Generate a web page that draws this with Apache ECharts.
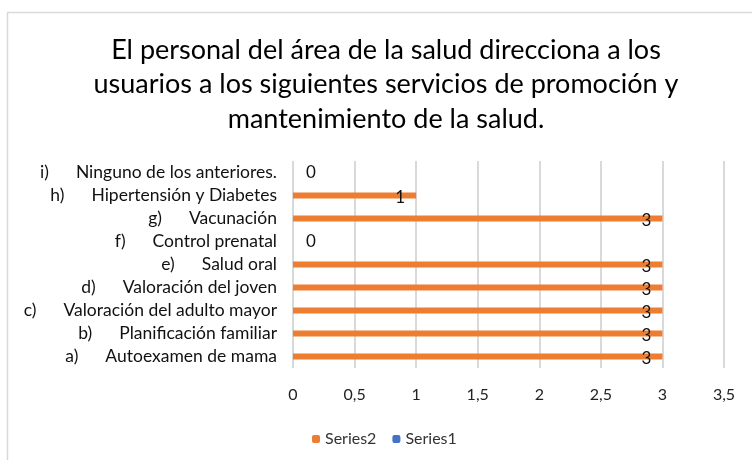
<!DOCTYPE html>
<html>
<head>
<meta charset="utf-8">
<script src="https://cdn.jsdelivr.net/npm/echarts@6/dist/echarts.min.js"></script>
<style>
  html, body { margin: 0; padding: 0; background: #fff; }
  #chart { width: 752px; height: 460px; }
</style>
</head>
<body>
<div id="chart"></div>
<script>
// categories, bottom to top like the reference
var prefixes = ["a)", "b)", "c)", "d)", "e)", "f)", "g)", "h)", "i)"];
var names = [
  "Autoexamen de mama",
  "Planificación familiar",
  "Valoración del adulto mayor",
  "Valoración del joven",
  "Salud oral",
  "Control prenatal",
  "Vacunación",
  "Hipertensión y Diabetes",
  "Ninguno de los anteriores."
];
var series2 = [3, 3, 3, 3, 3, 0, 3, 1, 0];
var series1 = [0, 0, 0, 0, 0, 0, 0, 0, 0];
var titleText = "El personal del área de la salud direcciona a los\nusuarios a los siguientes servicios de promoción y\nmantenimiento de la salud.";

var categories = prefixes.map(function (p, i) {
  return p + "|" + names[i];
});

var font = "Lato, 'Open Sans', sans-serif";

var chart = echarts.init(document.getElementById("chart"));

var option = {
  backgroundColor: "#FFFFFF",
  animation: false,
  graphic: [
    {
      type: "rect",
      silent: true,
      shape: { x: 7.5, y: 12.5, width: 800, height: 500 },
      style: { fill: "none", stroke: "#d9d9d9", lineWidth: 1.5 }
    },
    {
      type: "text",
      silent: true,
      x: 386,
      y: 33,
      style: {
        text: titleText,
        textAlign: "center",
        fontFamily: font,
        fontSize: 27,
        lineHeight: 34.5,
        fill: "#000000"
      }
    }
  ],
  legend: {
    left: 307,
    top: 426,
    itemWidth: 8,
    itemHeight: 8,
    itemGap: 16,
    data: ["Series2", "Series1"],
    textStyle: { fontFamily: font, fontSize: 16, color: "#333" }
  },
  grid: {
    left: 293,
    right: 28,
    top: 161,
    bottom: 92
  },
  xAxis: {
    type: "value",
    min: 0,
    max: 3.5,
    interval: 0.5,
    axisLine: { show: false },
    axisTick: { show: false },
    splitLine: { show: true, lineStyle: { color: "#d9d9d9", width: 2 } },
    axisLabel: {
      margin: 19,
      fontFamily: font,
      fontSize: 16,
      color: "#222",
      formatter: function (v) {
        return String(v).replace(".", ",");
      }
    }
  },
  yAxis: {
    type: "category",
    data: categories,
    axisLine: { show: false },
    axisTick: { show: false },
    axisLabel: {
      interval: 0,
      margin: 16,
      formatter: function (v) {
        var parts = v.split("|");
        return "{p|" + parts[0] + "}" + parts[1];
      },
      fontFamily: font,
      fontSize: 17.5,
      color: "#111",
      rich: {
        p: { fontFamily: font, fontSize: 17.5, color: "#111", padding: [0, 27, 0, 0] }
      }
    }
  },
  series: [
    {
      name: "Series2",
      type: "bar",
      barWidth: 6,
      barGap: "-100%",
      itemStyle: { color: "#ED7D31" },
      label: {
        show: true,
        position: "insideRight",
        distance: 11,
        offset: [0, 2],
        fontFamily: font,
        fontSize: 17,
        color: "#111"
      },
      data: series2.map(function (v) {
        if (v === 0) {
          return { value: v, label: { position: "right", distance: 13, offset: [0, 0] } };
        }
        return v;
      })
    },
    {
      name: "Series1",
      type: "bar",
      barWidth: 6,
      itemStyle: { color: "#4472C4" },
      data: series1
    }
  ]
};

chart.setOption(option);
</script>
</body>
</html>
